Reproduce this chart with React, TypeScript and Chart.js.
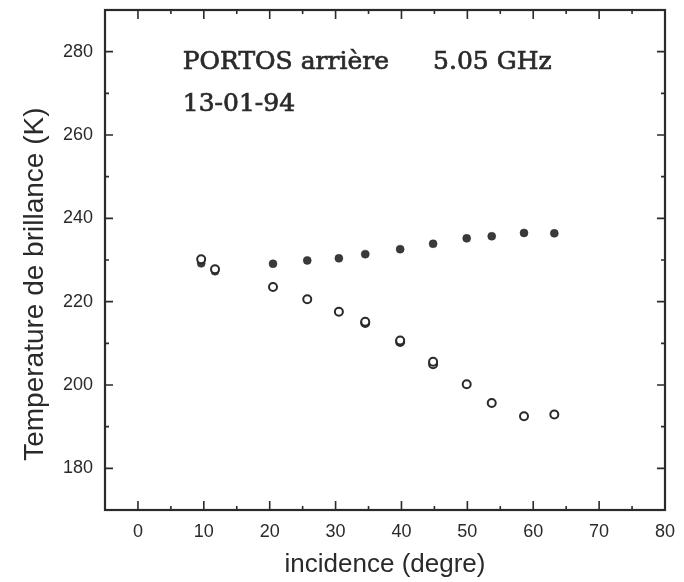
import React, { useEffect, useRef } from "react";
import { Chart, registerables } from "chart.js";

Chart.register(...registerables);

// incidence angle (degrees)
const incidence = [9.6, 11.7, 20.5, 25.7, 30.5, 34.5, 39.8, 44.8, 49.9, 53.7, 58.6, 63.2];
// brightness temperature, filled markers (K)
const tbFilled = [229.2, 227.3, 229.1, 229.9, 230.4, 231.4, 232.6, 233.9, 235.2, 235.7, 236.5, 236.4];
// brightness temperature, open markers (K)
const tbOpen = [230.2, 227.8, 223.5, 220.6, 217.6, 215.2, 210.7, 205.6, 200.2, 195.7, 192.5, 192.9];
// repeated open measurements
const incidenceRepeat = [34.5, 39.8, 44.8];
const tbOpenRepeat = [214.9, 210.3, 205.0];

const xTickValues = [0, 10, 20, 30, 40, 50, 60, 70, 80];
const yTickValues = [180, 200, 220, 240, 260, 280];

const titleLine1a = "PORTOS arrière";
const titleLine1b = "5.05 GHz";
const titleLine2 = "13-01-94";
const xTitle = "incidence (degre)";
const yTitle = "Temperature de brillance (K)";

const INK = "#2a2a2a";

const framePlugin = {
  id: "frameTicks",
  afterDatasetsDraw(chart: any) {
    const { ctx, chartArea } = chart;
    const xs = chart.scales.x;
    const ys = chart.scales.y;
    const { left, right, top, bottom } = chartArea;
    ctx.save();
    ctx.strokeStyle = INK;
    ctx.lineWidth = 1.6;
    xs.ticks.forEach((t: any) => {
      const v = t.value;
      if (v <= xs.min || v >= xs.max) return;
      const px = xs.getPixelForValue(v);
      const len = v % 10 === 0 ? 9 : 4;
      ctx.beginPath();
      ctx.moveTo(px, bottom);
      ctx.lineTo(px, bottom - len);
      ctx.moveTo(px, top);
      ctx.lineTo(px, top + len);
      ctx.stroke();
    });
    ys.ticks.forEach((t: any) => {
      const v = t.value;
      if (v <= ys.min || v >= ys.max) return;
      const py = ys.getPixelForValue(v);
      const len = v % 20 === 0 ? 8 : 4;
      ctx.beginPath();
      ctx.moveTo(left, py);
      ctx.lineTo(left + len, py);
      ctx.moveTo(right, py);
      ctx.lineTo(right - len, py);
      ctx.stroke();
    });
    ctx.lineWidth = 2.2;
    ctx.strokeRect(left, top, right - left, bottom - top);

    // annotation text
    ctx.fillStyle = INK;
    ctx.strokeStyle = INK;
    ctx.lineWidth = 0.7;
    ctx.font = "25px 'DejaVu Serif'";
    ctx.textBaseline = "middle";
    ctx.textAlign = "left";
    const l1y = ys.getPixelForValue(277.5);
    const l2y = ys.getPixelForValue(267.4);
    const ax = xs.getPixelForValue(6.8);
    const bx = xs.getPixelForValue(44.8);
    ctx.fillText(titleLine1a, ax, l1y);
    ctx.strokeText(titleLine1a, ax, l1y);
    ctx.fillText(titleLine1b, bx, l1y);
    ctx.strokeText(titleLine1b, bx, l1y);
    ctx.fillText(titleLine2, ax, l2y);
    ctx.strokeText(titleLine2, ax, l2y);

    // y title
    ctx.font = "28px 'Liberation Sans'";
    ctx.textAlign = "center";
    ctx.translate(35, ys.getPixelForValue(224.2));
    ctx.rotate(-Math.PI / 2);
    ctx.fillText(yTitle, 0, 0);
    ctx.restore();
  },
};

export default function App() {
  const ref = useRef<HTMLCanvasElement | null>(null);
  useEffect(() => {
    document.body.style.margin = "0";
    const canvas = ref.current!;
    const chart = new Chart(canvas, {
      type: "scatter",
      data: {
        datasets: [
          {
            label: "open",
            data: incidence.map((x, i) => ({ x, y: tbOpen[i] })),
            pointRadius: 4,
            pointBorderWidth: 2,
            pointBorderColor: INK,
            pointBackgroundColor: "#ffffff",
          },
          {
            label: "open repeat",
            data: incidenceRepeat.map((x, i) => ({ x, y: tbOpenRepeat[i] })),
            pointRadius: 4,
            pointBorderWidth: 2,
            pointBorderColor: INK,
            pointBackgroundColor: "#ffffff",
          },
          {
            label: "filled",
            data: incidence.map((x, i) => ({ x, y: tbFilled[i] })),
            pointRadius: 4,
            pointBorderWidth: 0.5,
            pointBorderColor: INK,
            pointBackgroundColor: "#3a3a3a",
          },
        ],
      },
      options: {
        animation: false,
        responsive: false,
        layout: { padding: { top: 10, right: 19, left: 0, bottom: 0 } },
        plugins: { legend: { display: false }, tooltip: { enabled: false } },
        scales: {
          x: {
            type: "linear",
            min: -5,
            max: 80,
            grid: { display: false, drawTicks: false },
            border: { display: false },
            afterFit: (s: any) => {
              s.height = 72;
              s.paddingLeft = 0;
              s.paddingRight = 0;
            },
            afterBuildTicks: (s: any) => {
              const t = [];
              for (let v = -5; v <= 80; v += 5) t.push({ value: v });
              s.ticks = t;
            },
            ticks: {
              autoSkip: false,
              maxRotation: 0,
              padding: 11,
              color: INK,
              font: { family: "'Liberation Sans'", size: 18 },
              callback: (v: any) => (xTickValues.includes(v) ? String(v) : ""),
            },
            title: {
              display: true,
              text: xTitle,
              color: INK,
              font: { family: "'Liberation Sans'", size: 26 },
              padding: { top: 0, bottom: 2 },
            },
          },
          y: {
            type: "linear",
            min: 170,
            max: 290,
            grid: { display: false, drawTicks: false },
            border: { display: false },
            afterFit: (s: any) => {
              s.width = 105;
              s.paddingTop = 0;
              s.paddingBottom = 0;
            },
            afterBuildTicks: (s: any) => {
              const t = [];
              for (let v = 170; v <= 290; v += 10) t.push({ value: v });
              s.ticks = t;
            },
            ticks: {
              autoSkip: false,
              padding: 12,
              color: INK,
              font: { family: "'Liberation Sans'", size: 18 },
              callback: (v: any) => (yTickValues.includes(v) ? String(v) : ""),
            },
          },
        },
      },
      plugins: [framePlugin],
    });
    return () => chart.destroy();
  }, []);
  return (
    <div style={{ position: "fixed", left: 0, top: 0, width: 684, height: 582, background: "#fff" }}>
      <canvas ref={ref} width={684} height={582} style={{ width: 684, height: 582 }} />
    </div>
  );
}
